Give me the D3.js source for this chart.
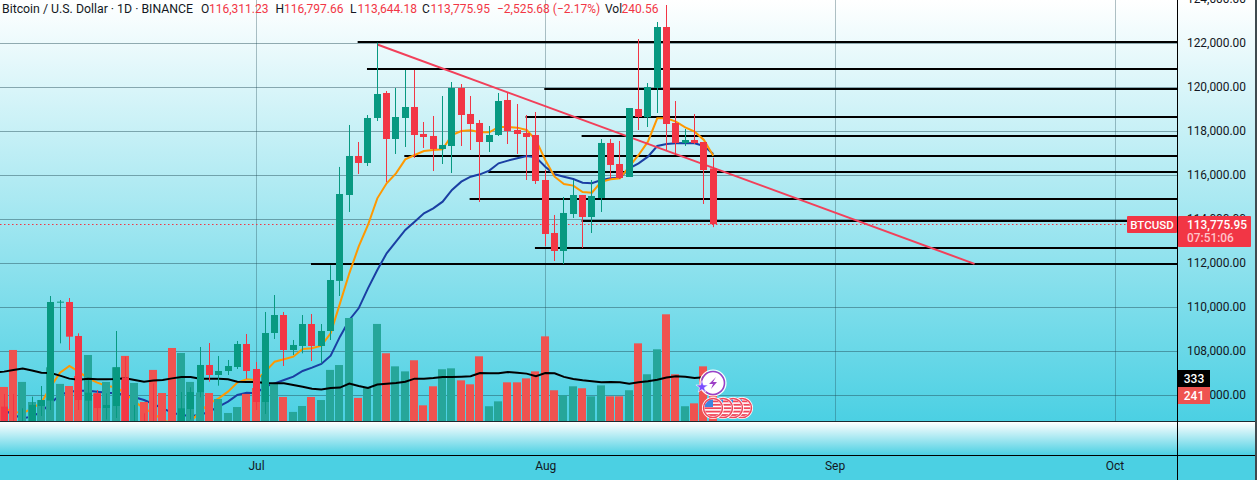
<!DOCTYPE html>
<html>
<head>
<meta charset="utf-8">
<script src="https://cdnjs.cloudflare.com/ajax/libs/d3/7.9.0/d3.min.js"></script>
<style>
html,body{margin:0;padding:0;overflow:hidden;background:#4bd0e3}
svg{display:block}
text{font-family:Roboto,"Liberation Sans",sans-serif}
</style>
</head>
<body>
<svg id="chart" width="1257" height="480"></svg>
<script>
// BTC/USD daily candles, 2025-06-03 through 2025-08-19
const firstDay = "2025-06-03";
const openPrices = [105500,105484,104700,104400,104750,105514,105757,110211,110241,108696,105757,
 106090,105423,105514,106817,104300,104800,104700,104600,104400,104100,
 105378,106120,107378,106923,107105,107287,108332,107196,105696,108832,
 109650,108059,108241,109241,108241,108923,111200,115105,116878,116560,
 118605,119741,117650,118605,119105,117878,117787,117196,117332,119968,
 118787,118378,117514,117832,119423,118059,117923,117832,115787,113378,
 112560,114241,115105,114105,114969,117469,116514,115923,119014,118635,
 119968,122741,118378,117469,117605,117514,116311.23];
const closePrices = [105484,104700,104400,104750,105560,105787,110241,110256,108665,105787,106120,
 105423,105560,107272,104700,104800,104500,104500,104400,104100,105408,
 106150,107378,106923,107105,107332,108332,107105,105696,108832,109650,
 108059,108287,109241,108241,108923,111241,115150,116878,116560,118605,
 119696,117650,118650,119105,117832,117741,117196,117378,119968,118741,
 118332,117514,117832,119378,118014,117878,117741,115741,113332,112560,
 114287,115105,114105,115060,117469,116469,115878,119059,118650,120014,
 122741,118332,117469,117605,117469,116241,113775.95];
const highPrices = [105900,106060,106060,105408,105939,106423,110514,110332,110423,108817,106700,
 106241,106090,108923,107757,105560,105181,106544,104750,104700,106150,
 106363,108196,108378,107787,107605,108469,108787,107514,109787,110559,
 109787,108514,109650,109696,109241,111911,116380,118287,117514,118741,
 122029,119832,119968,120787,120787,118423,118696,119605,120241,120150,
 119605,118514,118241,119741,119741,119241,118741,118878,116241,114196,
 115014,115787,115105,115787,117650,117650,117560,119059,122195,120195,
 122968,123741,119377,118105,118787,117514,116797.66];
const lowPrices = [105200,104400,104100,104200,104500,105060,105333,108362,108059,105333,104800,
 104850,104900,104969,104400,104000,104300,104300,104200,103900,103900,
 104900,105908,106620,106438,106923,107196,106741,105333,105150,108559,
 107332,107832,107908,107559,107453,108514,110514,114333,116060,116423,
 118469,115696,116969,117287,116787,117241,116196,116514,116105,117332,
 117150,114787,117060,117787,117423,116969,115787,115605,112787,112105,
 111969,114060,112696,113378,114333,115832,115832,115923,118059,118196,
 118832,117150,116923,117332,117423,114696,113644.18];
const volumes = [150,260,540,298,146,161,409,283,267,343,502,
 212,298,409,495,290,146,389,214,555,517,
 298,217,214,169,63,108,207,252,351,290,
 184,71,116,184,161,389,426,782,177,252,
 737,515,416,378,462,121,265,394,401,310,
 280,492,114,151,295,295,325,378,643,235,
 197,265,250,189,272,189,189,235,590,356,
 545,810,356,114,136,416,240.56];
const volumeAverage = [368,376,388,399,384,368,366,346,323,315,323,
 318,318,320,325,313,300,308,313,325,336,
 336,323,323,323,318,300,298,298,290,288,
 288,275,262,247,240,252,255,285,267,252,
 278,285,290,300,323,323,328,336,336,338,
 341,366,363,363,373,368,361,341,366,363,
 336,320,310,303,295,298,295,285,295,303,
 315,331,341,338,328,333,333];
const fastAverage = [105500,105408,105257,105181,105408,105666,106393,107029,107332,107075,106772,
 106575,106423,106363,106090,105711,105408,105181,104878,104726,104575,
 104802,105257,105636,105863,106166,106575,106726,106696,107075,107529,
 107635,107756,108105,108135,108256,108817,110180,111545,112757,113742,
 114954,115636,116090,116726,116923,117105,117150,117181,117832,118014,
 118044,117953,117953,118196,118196,118166,118059,117605,116696,115938,
 115605,115530,115242,115211,115711,115817,115863,116393,116923,117529,
 118590,118590,118438,118181,117984,117605,116893];
const slowAverage = [105480,105333,105105,104954,105030,105257,105636,106014,106166,106211,106211,
 106166,106120,106090,106014,105908,105787,105605,105408,105211,105105,
 105060,105105,105257,105484,105711,106014,106120,106090,106393,106544,
 106696,106847,107105,107257,107423,107802,108665,109423,109953,110862,
 111697,112454,112984,113514,113893,114272,114499,114802,115333,115711,
 115938,116044,116211,116544,116666,116772,116878,116817,116393,116044,
 115938,115832,115666,115636,115787,115863,115893,116317,116544,116848,
 117332,117423,117453,117469,117453,117332,116969];
// Support and resistance levels with the day each one is drawn from
const levelPrices = [122059,120832,119923,118650,117787,116878,116150,114923,113923,112696,111969];
const levelStarts = ["2025-07-12","2025-07-13","2025-08-01","2025-07-30","2025-08-05","2025-07-17",
 "2025-07-26","2025-07-24","2025-08-05","2025-07-31","2025-07-07"];
const trendDates = ["2025-07-14","2025-09-16"];
const trendPrices = [121945,111975];
const priceTicks = [124000,122000,120000,118000,116000,114000,112000,110000,108000,106000];
const monthTicks = ["2025-07-01","2025-08-01","2025-09-01","2025-10-01"];
const headerName = "Bitcoin / U.S. Dollar · 1D · BINANCE";
const headerParts = [
 ["O",201,"dark"],["116,311.23",209,"red"],["H",275.5,"dark"],["116,797.66",284,"red"],
 ["L",350,"dark"],["113,644.18",357.5,"red"],["C",422,"dark"],["113,775.95",430.5,"red"],
 ["−2,525.68 (−2.17%)",497,"red"],["Vol",605,"dark"],["240.56",621.5,"red"]];

const W = 1257, H = 480, plotRight = 1177, paneBottom = 421.3, stripBottom = 455;
const GREEN = "#089981", RED = "#f23645", VOL_GREEN = "#26a69a", VOL_RED = "#ef5350", INK = "#131722";
const CYAN = "#4bd0e3";

const dayMs = 864e5;
const start = new Date(firstDay + "T00:00:00Z");
const dates = openPrices.map((_, i) => new Date(+start + i * dayMs));
const bars = dates.map((date, i) => ({
  date, open: openPrices[i], close: closePrices[i], high: highPrices[i], low: lowPrices[i],
  vol: volumes[i], volAvg: volumeAverage[i], fast: fastAverage[i], slow: slowAverage[i]
}));
const utc = s => new Date(s + "T00:00:00Z");

const x = d3.scaleUtc().domain([utc("2025-07-01"), utc("2025-10-01")]).range([256, 1114.5]);
const y = d3.scaleLinear().domain([122000, 106000]).range([43.3, 395.3]);
const yVol = d3.scaleLinear().domain([0, 1000]).range([paneBottom, paneBottom - 132.1]);
const snap = v => Math.round(v) + 0.5;

const svg = d3.select("#chart");
const defs = svg.append("defs");
function fade(id, y1, y2) {
  const g = defs.append("linearGradient").attr("id", id).attr("gradientUnits", "userSpaceOnUse")
    .attr("x1", 0).attr("x2", 0).attr("y1", y1).attr("y2", y2);
  g.append("stop").attr("offset", 0).attr("stop-color", "#ffffff");
  g.append("stop").attr("offset", 1).attr("stop-color", CYAN);
}
fade("paneFill", 0, paneBottom);
fade("stripFill", 422, stripBottom);
defs.append("clipPath").attr("id", "paneClip").append("rect")
  .attr("x", 0).attr("y", 0).attr("width", plotRight).attr("height", paneBottom);

// Backgrounds
svg.append("rect").attr("width", W).attr("height", H).attr("fill", CYAN);
svg.append("rect").attr("width", W).attr("height", 421).attr("fill", "url(#paneFill)");
svg.append("rect").attr("y", 422).attr("width", W).attr("height", stripBottom - 422).attr("fill", "url(#stripFill)");

const pane = svg.append("g").attr("clip-path", "url(#paneClip)");

// Grid
pane.append("g").selectAll("line").data(priceTicks).join("line")
  .attr("x1", 0).attr("x2", plotRight)
  .attr("y1", d => snap(y(d) - 0.5)).attr("y2", d => snap(y(d) - 0.5))
  .attr("stroke", "#1f4a55").attr("stroke-opacity", 0.45);
pane.append("g").selectAll("line").data(monthTicks).join("line")
  .attr("x1", d => snap(x(utc(d)))).attr("x2", d => snap(x(utc(d))))
  .attr("y1", 0).attr("y2", paneBottom)
  .attr("stroke", "#1f4a55").attr("stroke-opacity", 0.35);

// Last-price dotted line
pane.append("line").attr("x1", 0).attr("x2", plotRight)
  .attr("y1", snap(y(closePrices[closePrices.length - 1]) - 0.5))
  .attr("y2", snap(y(closePrices[closePrices.length - 1]) - 0.5))
  .attr("stroke", RED).attr("stroke-dasharray", "1.5 2.5");

// Horizontal levels
pane.append("g").selectAll("line").data(levelPrices).join("line")
  .attr("x1", (d, i) => x(utc(levelStarts[i])) - 1).attr("x2", plotRight)
  .attr("y1", d => Math.round(y(d))).attr("y2", d => Math.round(y(d)))
  .attr("stroke", "#000").attr("stroke-width", 2);

// Moving averages on price
const priceLine = key => d3.line().x(d => x(d.date)).y(d => y(d[key]));
pane.append("path").datum(bars).attr("d", priceLine("slow"))
  .attr("fill", "none").attr("stroke", "#1a3fa3").attr("stroke-width", 2);
pane.append("path").datum(bars).attr("d", priceLine("fast"))
  .attr("fill", "none").attr("stroke", "#ff9800").attr("stroke-width", 2);

// Falling trend line
pane.append("line")
  .attr("x1", x(utc(trendDates[0]))).attr("y1", y(trendPrices[0]))
  .attr("x2", x(utc(trendDates[1]))).attr("y2", y(trendPrices[1]))
  .attr("stroke", "#f2405a").attr("stroke-width", 2);

// Volume histogram and its average
pane.append("g").selectAll("rect").data(bars).join("rect")
  .attr("x", d => Math.floor(x(d.date)) - 4).attr("width", 8)
  .attr("y", d => yVol(d.vol)).attr("height", d => paneBottom - yVol(d.vol))
  .attr("fill", d => d.close >= d.open ? VOL_GREEN : VOL_RED);
pane.append("path").datum(bars)
  .attr("d", d3.line().x(d => x(d.date)).y(d => yVol(d.volAvg)))
  .attr("fill", "none").attr("stroke", "#000").attr("stroke-width", 2);

// Candles
const candle = pane.append("g").selectAll("g").data(bars).join("g")
  .attr("fill", d => d.close >= d.open ? GREEN : RED);
candle.append("rect")
  .attr("x", d => Math.floor(x(d.date))).attr("width", 1)
  .attr("y", d => y(d.high)).attr("height", d => y(d.low) - y(d.high));
candle.append("rect")
  .attr("x", d => Math.floor(x(d.date)) - 3).attr("width", 7)
  .attr("y", d => y(Math.max(d.open, d.close)))
  .attr("height", d => Math.max(1, Math.abs(y(d.open) - y(d.close))));

// Event markers beside the latest bar
const lastX = Math.floor(x(dates[dates.length - 1]));
const flagOffsets = [29, 20, 10, 0];
flagOffsets.forEach((dx, k) => {
  const id = "flag" + k;
  defs.append("clipPath").attr("id", id).append("circle")
    .attr("cx", lastX + dx).attr("cy", 408).attr("r", 8.5);
  const f = svg.append("g");
  f.append("circle").attr("cx", lastX + dx).attr("cy", 408).attr("r", 11).attr("fill", "#fff");
  f.append("circle").attr("cx", lastX + dx).attr("cy", 408).attr("r", 9.5)
    .attr("fill", "#fff").attr("stroke", "#f0465a").attr("stroke-width", 1.5);
  const inner = f.append("g").attr("clip-path", `url(#${id})`);
  d3.range(5).forEach(s => inner.append("rect")
    .attr("x", lastX + dx - 10).attr("y", 400.5 + s * 3.4).attr("width", 20).attr("height", 1.8)
    .attr("fill", "#f0465a"));
  inner.append("rect").attr("x", lastX + dx - 10).attr("y", 398).attr("width", 10).attr("height", 9)
    .attr("fill", "#3d86e0");
});
svg.append("circle").attr("cx", lastX).attr("cy", 383).attr("r", 11.5)
  .attr("fill", "#fff").attr("stroke", "#9c3fc6").attr("stroke-width", 1.6);
svg.append("circle").attr("cx", lastX).attr("cy", 383).attr("r", 13).attr("fill", "none")
  .attr("stroke", "#fff").attr("stroke-width", 1.2);
svg.append("path")
  .attr("d", `M${lastX + 3},${377} L${lastX - 4},${384} L${lastX},${384} L${lastX - 2},${389} L${lastX + 4},${382} L${lastX},${382} Z`)
  .attr("fill", "#9c3fc6");
svg.append("path").attr("transform", `translate(${lastX - 11},387)`)
  .attr("d", d3.symbol(d3.symbolStar, 46)())
  .attr("fill", "#7a4dff").attr("stroke", "#fff").attr("stroke-width", 0.6);

// Axis frame
svg.append("rect").attr("x", 0).attr("y", 421).attr("width", W).attr("height", 1).attr("fill", "#1c2a30");
svg.append("rect").attr("x", 0).attr("y", stripBottom).attr("width", W).attr("height", 1).attr("fill", "#000");
svg.append("rect").attr("x", plotRight).attr("y", 0).attr("width", 1).attr("height", H).attr("fill", "#000");
svg.append("rect").attr("x", W - 2).attr("y", 0).attr("width", 2).attr("height", H).attr("fill", "#3f4a4f");

// Price axis
const yAxis = d3.axisRight(y).tickValues(priceTicks).tickSize(0).tickPadding(10).tickFormat(d3.format(",.2f"));
const gy = svg.append("g").attr("transform", `translate(${plotRight},-0.8)`).call(yAxis);
gy.select(".domain").remove();
gy.selectAll("text").attr("fill", INK).style("font-size", "11.9px").style("font-family", "Roboto");

// Time axis
const xAxis = d3.axisBottom(x).tickValues(monthTicks.map(utc)).tickSize(0).tickPadding(0)
  .tickFormat(d3.utcFormat("%b"));
const gx = svg.append("g").attr("transform", "translate(0,461)").call(xAxis);
gx.select(".domain").remove();
gx.selectAll("text").attr("fill", INK).style("font-size", "12px").style("font-family", "Roboto");

// Symbol tag and price badge
svg.append("rect").attr("x", 1127).attr("y", 216).attr("width", 50).attr("height", 17).attr("rx", 1).attr("fill", RED);
svg.append("text").attr("x", 1152).attr("y", 229).attr("text-anchor", "middle")
  .attr("fill", "#fff").style("font-size", "11.5px").style("font-weight", 500).text("BTCUSD");
svg.append("rect").attr("x", 1178).attr("y", 216).attr("width", 73).attr("height", 31).attr("rx", 1).attr("fill", RED);
svg.append("text").attr("x", 1187).attr("y", 229).attr("fill", "#fff").style("font-size", "11.9px").style("font-weight", 500)
  .text(d3.format(",.2f")(closePrices[closePrices.length - 1]));
svg.append("text").attr("x", 1187).attr("y", 242).attr("fill", "#ffc4cb").style("font-size", "11.9px").style("font-weight", 500).text("07:51:06");

// Volume readouts on the axis
svg.append("rect").attr("x", 1178).attr("y", 370).attr("width", 32).attr("height", 17).attr("fill", "#000");
svg.append("text").attr("x", 1194).attr("y", 383).attr("text-anchor", "middle").attr("fill", "#fff")
  .style("font-size", "12px").style("font-weight", 500).text(volumeAverage[volumeAverage.length - 1]);
svg.append("rect").attr("x", 1178).attr("y", 387).attr("width", 32).attr("height", 17).attr("fill", VOL_RED);
svg.append("text").attr("x", 1194).attr("y", 400).attr("text-anchor", "middle").attr("fill", "#fff")
  .style("font-size", "12px").style("font-weight", 500).text(Math.round(volumes[volumes.length - 1]));

// Legend line
svg.append("text").attr("x", 2).attr("y", 13).attr("fill", INK).style("font-size", "12.3px").text(headerName);
svg.append("g").selectAll("text").data(headerParts).join("text")
  .attr("x", d => d[1]).attr("y", 13)
  .attr("fill", d => d[2] === "red" ? RED : INK)
  .style("font-size", "12px").text(d => d[0]);
</script>
</body>
</html>
